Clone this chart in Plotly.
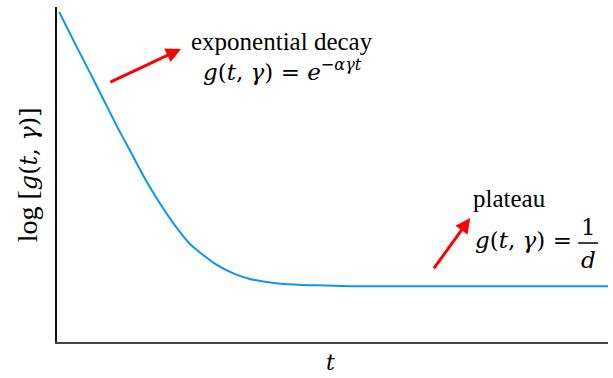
import plotly.graph_objects as go

# curve (arbitrary units: t in [0, 10], log g in [0, 6])
t_vals = [0.04, 0.33, 0.60, 0.87, 1.17, 1.33, 1.60, 1.87, 2.14, 2.41, 2.60, 2.90,
          3.20, 3.50, 3.81, 4.11, 4.71, 5.32, 7.13, 10.0]
log_g = [5.91, 5.34, 4.82, 4.29, 3.71, 3.42, 2.92, 2.48, 2.09, 1.76, 1.60, 1.38,
         1.23, 1.13, 1.075, 1.04, 1.015, 1.00, 1.00, 1.00]

# arrows: (tail t, tail y, head t, head y)
arrow_decay = (0.94, 4.64, 2.25, 5.25)
arrow_plateau = (6.82, 1.29, 7.50, 2.22)

serif = "Liberation Serif"
math = "DejaVu Serif"


def m(s, size):
    return '<span style="font-family:%s;font-size:%dpx">%s</span>' % (math, size, s)


g_tg = "<i>g</i>(<i>t</i>, <i>γ</i>)"

fig = go.Figure()
fig.add_trace(go.Scatter(x=t_vals, y=log_g, mode="lines",
                         line=dict(color="#0a97f0", width=2, shape="spline", smoothing=1.0),
                         hoverinfo="skip", showlegend=False))

annotations = []
for tx, ty, hx, hy in (arrow_decay, arrow_plateau):
    annotations.append(dict(x=hx, y=hy, ax=tx, ay=ty, xref="x", yref="y", axref="x", ayref="y",
                            text="", showarrow=True, arrowhead=2, arrowsize=1,
                            arrowwidth=3, arrowcolor="#ff0000"))


def txt(s, x, y, size=24, family=serif, **kw):
    d = dict(text=s, x=x, y=y, xref="paper", yref="paper", showarrow=False,
             font=dict(family=family, size=size, color="black"),
             xanchor="center", yanchor="middle")
    d.update(kw)
    annotations.append(d)


txt("exponential decay", 0.409, 0.896, size=25)
txt(g_tg + " = <i>e</i><sup>−<i>αγt</i></sup>", 0.409, 0.812, size=23, family=math)
txt("plateau", 0.822, 0.427, size=25)
txt(g_tg + " =", 0.846, 0.304, size=23, family=math)
txt("1", 0.964, 0.343, size=23, family=math)
txt("<i>d</i>", 0.964, 0.245, size=23, family=math)
txt("log [" + m(g_tg + "]", 24), -0.053, 0.5, size=28, textangle=-90)
txt("<i>t</i>", 0.497, -0.06, size=22, family=math)

fig.add_shape(type="line", xref="paper", yref="paper", x0=0.946, x1=0.982, y0=0.2955, y1=0.2955,
              line=dict(color="black", width=1.5), layer="above")

fig.update_layout(
    width=613, height=378,
    margin=dict(l=57, r=5, t=7, b=36),
    paper_bgcolor="white", plot_bgcolor="white",
    annotations=annotations,
    xaxis=dict(range=[0, 10], showline=True, linecolor="#444", linewidth=1.5,
               showticklabels=False, ticks="", showgrid=False, zeroline=False),
    yaxis=dict(range=[0, 6], showline=True, linecolor="#111", linewidth=1.5,
               showticklabels=False, ticks="", showgrid=False, zeroline=False),
)
fig.write_html("out.html", config={"displayModeBar": False},
               post_script="document.body.style.margin='0';")
